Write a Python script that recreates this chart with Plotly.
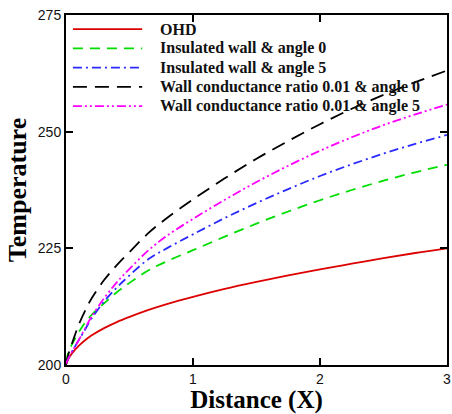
import plotly.graph_objects as go

x_vals = [0, 0.02, 0.05, 0.1, 0.15, 0.2, 0.3, 0.4, 0.5, 0.65, 0.8, 1.0,
          1.25, 1.5, 1.75, 2.0, 2.25, 2.5, 2.75, 3.0]
ohd = [200.0, 201.4, 202.6, 204.1, 205.3, 206.3, 207.9, 209.2, 210.3, 211.8, 213.1, 214.6,
       216.3, 217.8, 219.2, 220.5, 221.7, 222.9, 224.0, 225.0]
ins_a0 = [200.5, 202.8, 204.6, 207.0, 209.1, 210.7, 213.2, 215.6, 217.6, 220.3, 222.3, 224.6,
          227.5, 230.3, 232.9, 235.3, 237.5, 239.5, 241.3, 242.9]
ins_a5 = [200.3, 201.5, 203.0, 205.3, 207.6, 209.9, 213.6, 216.6, 219.2, 222.7, 225.1, 228.0,
          231.5, 234.7, 237.7, 240.5, 243.0, 245.3, 247.4, 249.3]
wc_a0 = [200.0, 202.4, 204.8, 208.6, 211.6, 214.2, 218.2, 221.4, 224.2, 228.3, 231.6, 235.5,
         240.0, 244.2, 248.0, 251.6, 254.9, 257.9, 260.6, 263.1]
wc_a5 = [200.3, 201.5, 203.0, 205.3, 207.8, 210.3, 214.3, 217.7, 220.6, 224.6, 227.8, 231.3,
         235.4, 239.2, 242.7, 245.9, 248.8, 251.4, 253.7, 255.8]

names = ["OHD", "Insulated wall & angle 0", "Insulated wall & angle 5",
         "Wall conductance ratio 0.01 & angle 0", "Wall conductance ratio 0.01 & angle 5"]
series = [ohd, ins_a0, ins_a5, wc_a0, wc_a5]
colors = ["#dd0000", "#00dd00", "#2a2aff", "#000000", "#ff00ff"]
dashes = ["solid", "10px,7px", "9px,4px,2px,4px", "14px,8px", "9px,3px,2px,3px,2px,3px"]

# plot-area pixel geometry (for legend placement)
W, H = 452, 414
ML, MR, MT, MB = 66, 1, 15, 47
PW, PH = W - ML - MR, H - MT - MB

fig = go.Figure()
for n, s, c, d in zip(names, series, colors, dashes):
    fig.add_trace(go.Scatter(x=x_vals, y=s, mode="lines", name=n, showlegend=False,
                             line=dict(color=c, width=1.8, dash=d, shape="spline")))

# legend drawn inside top-left of the plot
leg_x0, leg_x1, leg_tx = 7, 77, 93          # px offsets from plot left
leg_y0, leg_step = 14.3, 19.35               # px offsets from plot top
for i, (n, c, d) in enumerate(zip(names, colors, dashes)):
    yp = 1 - (leg_y0 + i * leg_step) / PH
    fig.add_shape(type="line", xref="paper", yref="paper",
                  x0=leg_x0 / PW, x1=leg_x1 / PW, y0=yp, y1=yp,
                  line=dict(color=c, width=1.8, dash=d))
    fig.add_annotation(xref="paper", yref="paper", x=leg_tx / PW, y=yp,
                       xanchor="left", yanchor="middle", showarrow=False,
                       text="<b>" + n.replace("&", "&amp;") + "</b>",
                       font=dict(family="Liberation Serif, Times New Roman", size=16, color="#111"))

axis_common = dict(showline=True, linecolor="black", linewidth=2, mirror="ticks",
                   ticks="inside", ticklen=7, tickwidth=1.5, tickcolor="black",
                   showgrid=False, zeroline=False, ticklabeloverflow="allow",
                   tickfont=dict(family="Liberation Sans, Arial", size=14, color="#111"))

fig.update_xaxes(range=[0, 3], dtick=1, tick0=0,
                 title=dict(text="<b>Distance (X)</b>", standoff=9,
                            font=dict(family="Liberation Serif, Times New Roman", size=25, color="black")),
                 **axis_common)
fig.update_yaxes(range=[200, 275], dtick=25, tick0=200,
                 title=dict(text="<b>Temperature</b>", standoff=4,
                            font=dict(family="Liberation Serif, Times New Roman", size=26, color="black")),
                 **axis_common)

fig.update_layout(
    width=W, height=H,
    margin=dict(l=ML, r=MR, t=MT, b=MB),
    plot_bgcolor="white", paper_bgcolor="white",
    showlegend=False,
)

fig.write_html("out.html")
